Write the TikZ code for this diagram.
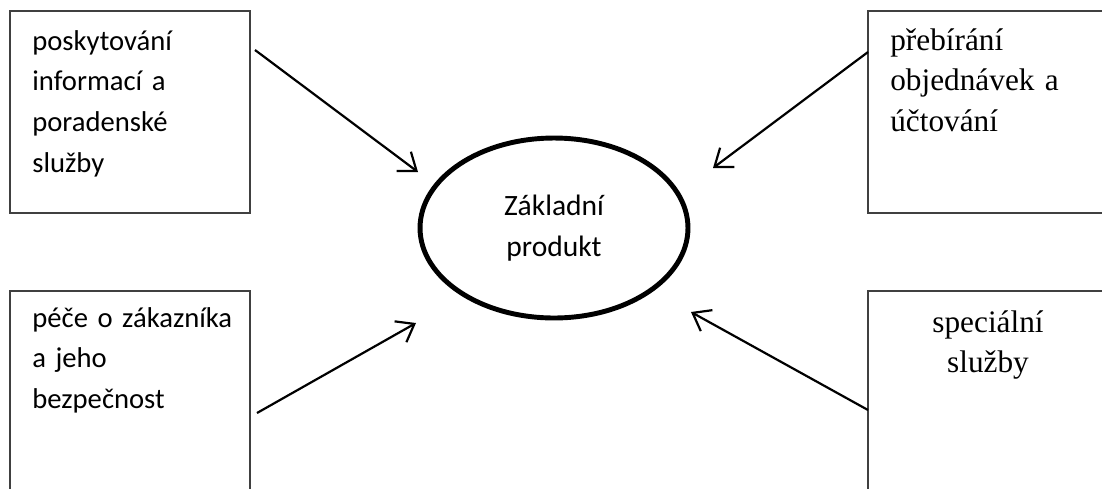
\documentclass[tikz,border=0pt]{standalone}
\usepackage{fontspec}
\setmainfont{Liberation Serif}
\newfontfamily\calibri{Carlito}
\usetikzlibrary{arrows.meta, shapes.geometric}

\tikzset{
	box/.style={draw=black!75, line width=0.75pt, minimum width=4.8cm, inner sep=0pt},
	sanstext/.style={font=\calibri\fontsize{16.3}{23.3}\selectfont, text width=4.6cm,
		align=left, inner sep=0pt, anchor=base west},
	seriftext/.style={font=\fontsize{17.8}{23.3}\selectfont, text width=4.6cm,
		align=left, inner sep=0pt, anchor=base west},
	link/.style={line width=1.25pt, -{Straight Barb[length=0.32cm, width=0.48cm]}}
}

\begin{document}
\begin{tikzpicture}[x=0.02cm, y=-0.02cm]
	\useasboundingbox (0,0) rectangle (1102,488);
	\clip (0,0) rectangle (1102,488);
	
	% boxes
	\node[box, minimum height=4.04cm] (info) at (130,112) {};
	\node[box, minimum height=4.04cm, minimum width=4.84cm] (orders) at (989,112) {};
	\node[box, minimum height=4.18cm] (care) at (130,395.5) {};
	\node[box, minimum height=4.18cm, minimum width=4.84cm] (special) at (989,395.5) {};
	
	% texts
	\node[sanstext] (infotext) at (32,50) {poskytování\\informací a\\poradenské\\služby};
	\node[seriftext] (orderstext) at (890,50) {přebírání\\objednávek a\\účtování};
	\node[sanstext] (caretext) at (32,327) {péče o zákazníka\\a jeho\\bezpečnost};
	\node[seriftext, anchor=base, align=center, text width=4cm] (specialtext) at (988,332)
		{speciální\\služby};
	
	% core
	\node[ellipse, draw, line width=2.8pt, minimum width=5.36cm, minimum height=3.6cm,
		font=\calibri\fontsize{16.8}{23.3}\selectfont, align=center] (core) at (554,228)
		{Základní\\produkt};
	
	% arrows
	\coordinate (infoA) at (255,50);
	\coordinate (infoB) at (418,172);
	\coordinate (ordersA) at (868,52);
	\coordinate (ordersB) at (713,168);
	\coordinate (careA) at (257,413);
	\coordinate (careB) at (416,323);
	\coordinate (specialA) at (868,410);
	\coordinate (specialB) at (691,312);
	\draw[link] (infoA) -- (infoB);
	\draw[link] (ordersA) -- (ordersB);
	\draw[link] (careA) -- (careB);
	\draw[link] (specialA) -- (specialB);
\end{tikzpicture}
\end{document}
